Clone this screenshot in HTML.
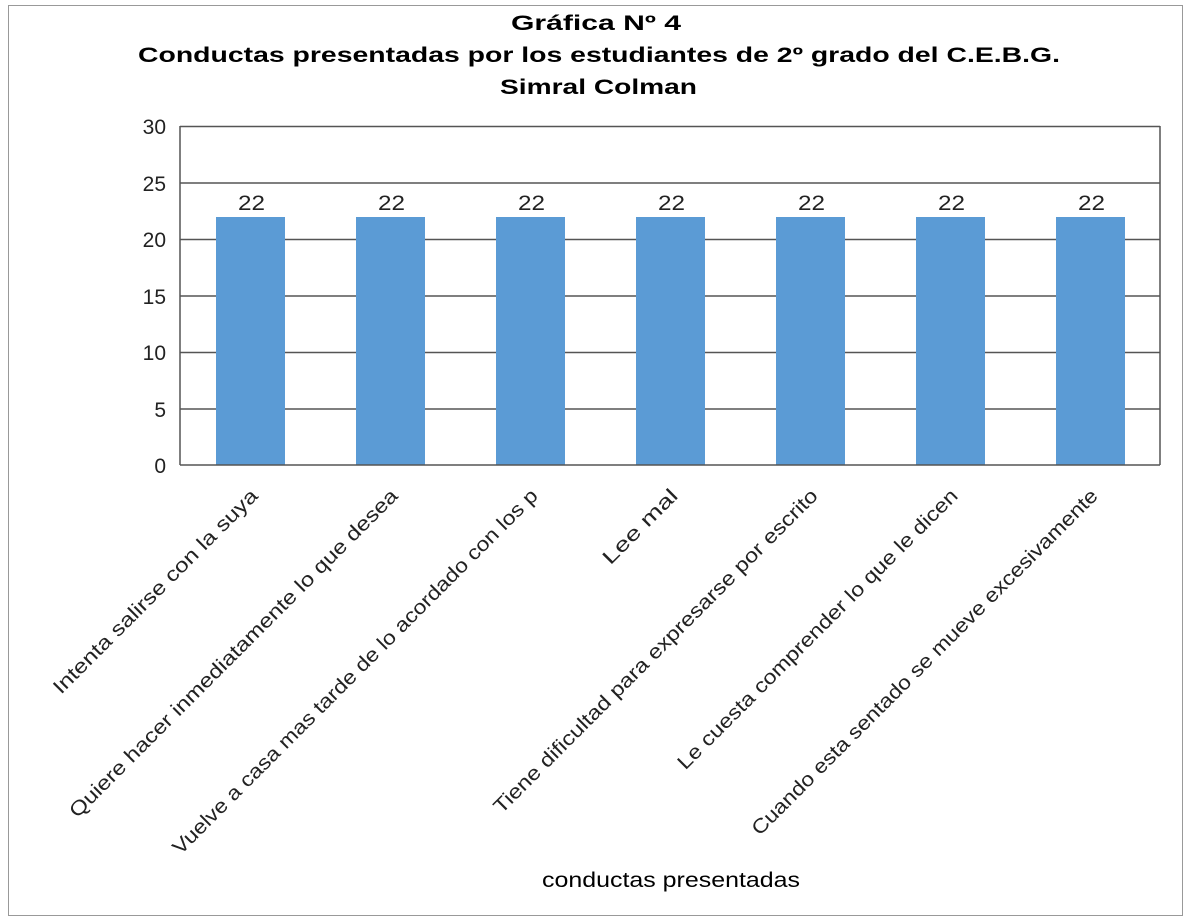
<!DOCTYPE html>
<html><head><meta charset="utf-8"><style>
body{margin:0;background:#fff;}
svg text{font-family:"Liberation Sans",sans-serif;}
</style></head><body>
<svg width="1187" height="919" xmlns="http://www.w3.org/2000/svg">
<rect x="0" y="0" width="1187" height="919" fill="#fff"/>
<rect x="8.5" y="5.5" width="1174" height="910" fill="none" stroke="#999" stroke-width="1"/>
<g font-weight="bold" font-size="21" fill="#000">
<text x="511" y="30" textLength="170" lengthAdjust="spacingAndGlyphs">Gráfica Nº 4</text>
<text x="138" y="62" textLength="922" lengthAdjust="spacingAndGlyphs">Conductas presentadas por los estudiantes de 2º grado del C.E.B.G.</text>
<text x="500" y="94" textLength="197" lengthAdjust="spacingAndGlyphs">Simral Colman</text>
</g>
<g stroke="#555" stroke-width="1.5">
<line x1="180" y1="126.5" x2="1160" y2="126.5"/>
<line x1="180" y1="183" x2="1160" y2="183"/>
<line x1="180" y1="239.5" x2="1160" y2="239.5"/>
<line x1="180" y1="296" x2="1160" y2="296"/>
<line x1="180" y1="352.5" x2="1160" y2="352.5"/>
<line x1="180" y1="409" x2="1160" y2="409"/>
<line x1="180" y1="126" x2="180" y2="465"/>
<line x1="1160" y1="126" x2="1160" y2="465"/>
</g>
<g fill="#5b9bd5">
<rect x="216" y="217" width="69" height="248"/>
<rect x="356" y="217" width="69" height="248"/>
<rect x="496" y="217" width="69" height="248"/>
<rect x="636" y="217" width="69" height="248"/>
<rect x="776" y="217" width="69" height="248"/>
<rect x="916" y="217" width="69" height="248"/>
<rect x="1056" y="217" width="69" height="248"/>
</g>
<line x1="180" y1="465" x2="1160" y2="465" stroke="#555" stroke-width="1.5"/>
<g font-size="21" fill="#222">
<text x="238" y="210" textLength="27" lengthAdjust="spacingAndGlyphs">22</text>
<text x="378" y="210" textLength="27" lengthAdjust="spacingAndGlyphs">22</text>
<text x="518" y="210" textLength="27" lengthAdjust="spacingAndGlyphs">22</text>
<text x="658" y="210" textLength="27" lengthAdjust="spacingAndGlyphs">22</text>
<text x="798" y="210" textLength="27" lengthAdjust="spacingAndGlyphs">22</text>
<text x="938" y="210" textLength="27" lengthAdjust="spacingAndGlyphs">22</text>
<text x="1078" y="210" textLength="27" lengthAdjust="spacingAndGlyphs">22</text>
</g>
<g font-size="21" fill="#222" text-anchor="end">
<text x="166" y="134">30</text><text x="166" y="191">25</text><text x="166" y="247">20</text>
<text x="166" y="304">15</text><text x="166" y="360">10</text><text x="166" y="417">5</text>
<text x="166" y="473">0</text>
</g>
<g font-size="20" fill="#222" text-anchor="end">
<text transform="translate(259,497) rotate(-45)" textLength="280" lengthAdjust="spacingAndGlyphs">Intenta salirse con la suya</text>
<text transform="translate(399,497) rotate(-45)" textLength="455" lengthAdjust="spacingAndGlyphs">Quiere hacer inmediatamente lo que desea</text>
<text transform="translate(539,497) rotate(-45)" textLength="507" lengthAdjust="spacingAndGlyphs">Vuelve a casa mas tarde de lo acordado con los p</text>
<text transform="translate(679,497) rotate(-45)" textLength="97" lengthAdjust="spacingAndGlyphs">Lee mal</text>
<text transform="translate(819,497) rotate(-45)" textLength="449" lengthAdjust="spacingAndGlyphs">Tiene dificultad para expresarse por escrito</text>
<text transform="translate(959,497) rotate(-45)" textLength="387" lengthAdjust="spacingAndGlyphs">Le cuesta comprender lo que le dicen</text>
<text transform="translate(1099,497) rotate(-45)" textLength="480" lengthAdjust="spacingAndGlyphs">Cuando esta sentado se mueve excesivamente</text>
</g>
<text x="542" y="887" font-size="21" fill="#000" textLength="258" lengthAdjust="spacingAndGlyphs">conductas presentadas</text>
</svg>
</body></html>
